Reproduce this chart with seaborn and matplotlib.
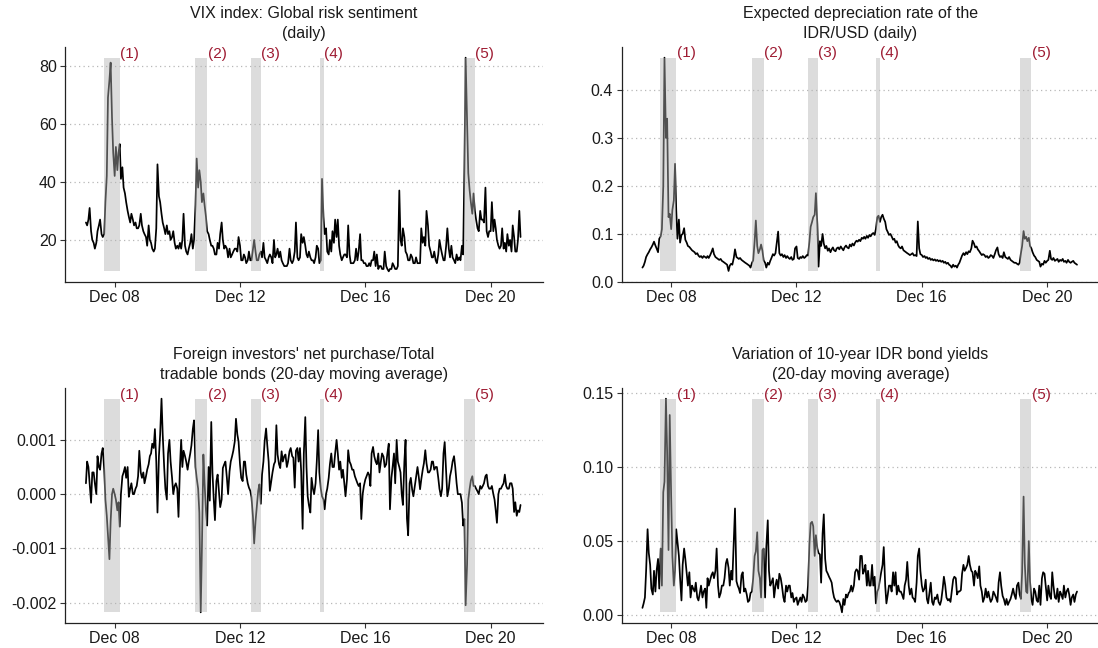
import numpy as np
import pandas as pd
import matplotlib
matplotlib.use("Agg")
import matplotlib.pyplot as plt
import matplotlib.dates as mdates
from matplotlib.ticker import FuncFormatter
import seaborn as sns

# Semi-monthly observations, Feb 2008 - Dec 2021
dates = pd.date_range("2008-02-01", "2021-12-16", freq="SMS")

# VIX index (daily, sampled twice a month)
vix = [
    26, 25, 27, 31, 23, 20, 19, 17, 19, 23, 25, 27, 22, 21, 22, 33, 42, 69, 75, 81, 62, 50,          # 2008
    42, 52, 44, 50, 53, 41, 45, 38, 36, 33, 30, 28, 26, 29, 27, 25, 26, 24, 24, 25, 29, 25, 23, 22,  # 2009
    21, 18, 25, 20, 19, 17, 16, 17, 24, 46, 35, 33, 29, 26, 24, 22, 25, 22, 23, 20, 21, 23, 19, 17,  # 2010
    18, 17, 19, 17, 20, 29, 18, 16, 15, 17, 19, 22, 17, 20, 32, 48, 38, 44, 40, 33, 36, 32, 28, 23,  # 2011
    22, 20, 18, 18, 17, 15, 15, 19, 17, 22, 26, 20, 17, 18, 17, 14, 17, 14, 15, 16, 17, 17, 16, 21,  # 2012
    18, 13, 13, 15, 14, 12, 13, 16, 13, 13, 17, 20, 16, 13, 13, 15, 16, 14, 19, 14, 13, 12, 14, 15,  # 2013
    14, 12, 20, 14, 15, 17, 14, 16, 13, 12, 11, 11, 11, 12, 17, 13, 12, 13, 16, 26, 14, 13, 14, 22,  # 2014
    19, 21, 18, 15, 14, 16, 14, 13, 13, 12, 14, 18, 17, 12, 13, 41, 28, 22, 24, 16, 15, 20, 16, 23,  # 2015
    19, 27, 21, 27, 18, 15, 13, 14, 15, 15, 14, 25, 15, 12, 12, 12, 13, 17, 13, 16, 22, 13, 13, 12,  # 2016
    12, 11, 11, 12, 11, 13, 13, 16, 11, 15, 10, 11, 11, 10, 10, 16, 11, 10, 9.2, 10, 10, 12, 11, 10, # 2017
    10, 11, 37, 20, 18, 24, 21, 16, 15, 13, 13, 15, 14, 12, 12, 14, 12, 12, 12, 24, 19, 21, 18, 30,  # 2018
    25, 18, 16, 14, 14, 16, 13, 12, 15, 20, 17, 15, 13, 13, 18, 24, 17, 14, 18, 14, 13, 12, 15, 13,  # 2019
    14, 13, 18, 15, 45, 82.7, 60, 43, 37, 33, 29, 36, 30, 27, 24, 23, 30, 27, 27, 26, 38, 23, 21, 23,  # 2020
    23, 33, 23, 27, 24, 20, 18, 17, 18, 24, 17, 19, 16, 22, 18, 20, 16, 25, 21, 16, 16, 20, 30, 21,  # 2021
]

# Expected depreciation rate of the IDR/USD
idr_depreciation = [
    0.030, 0.034, 0.042, 0.052, 0.058, 0.062, 0.068, 0.072, 0.078, 0.084, 0.076, 0.070, 0.062, 0.090, 0.095, 0.110, 0.200, 0.467, 0.300, 0.340, 0.135, 0.142,
    0.110, 0.150, 0.170, 0.246, 0.150, 0.090, 0.130, 0.082, 0.098, 0.100, 0.112, 0.088, 0.082, 0.075, 0.073, 0.070, 0.066, 0.064, 0.062, 0.058, 0.060, 0.055, 0.052, 0.054,
    0.050, 0.054, 0.052, 0.050, 0.054, 0.050, 0.056, 0.062, 0.070, 0.058, 0.052, 0.050, 0.048, 0.046, 0.048, 0.044, 0.042, 0.040, 0.038, 0.036, 0.023, 0.034, 0.038, 0.036,
    0.050, 0.068, 0.052, 0.050, 0.048, 0.050, 0.046, 0.044, 0.042, 0.040, 0.038, 0.036, 0.034, 0.030, 0.040, 0.045, 0.085, 0.128, 0.075, 0.060, 0.068, 0.078, 0.065, 0.045,
    0.040, 0.030, 0.040, 0.036, 0.044, 0.050, 0.058, 0.055, 0.060, 0.080, 0.105, 0.060, 0.055, 0.058, 0.052, 0.056, 0.050, 0.054, 0.050, 0.048, 0.052, 0.046, 0.048, 0.070,
    0.074, 0.050, 0.048, 0.052, 0.050, 0.054, 0.050, 0.052, 0.056, 0.055, 0.085, 0.115, 0.125, 0.135, 0.140, 0.185, 0.120, 0.032, 0.085, 0.075, 0.100, 0.080, 0.070, 0.075,
    0.065, 0.070, 0.062, 0.068, 0.072, 0.066, 0.064, 0.070, 0.072, 0.068, 0.074, 0.070, 0.066, 0.072, 0.076, 0.072, 0.070, 0.078, 0.074, 0.080, 0.076, 0.082, 0.086, 0.084,
    0.088, 0.085, 0.092, 0.090, 0.094, 0.090, 0.096, 0.092, 0.098, 0.095, 0.100, 0.102, 0.098, 0.110, 0.135, 0.138, 0.125, 0.135, 0.140, 0.132, 0.125, 0.110, 0.104, 0.098,
    0.100, 0.095, 0.088, 0.090, 0.082, 0.085, 0.076, 0.072, 0.070, 0.074, 0.066, 0.064, 0.062, 0.060, 0.058, 0.056, 0.058, 0.060, 0.055, 0.056, 0.054, 0.126, 0.070, 0.058,
    0.056, 0.052, 0.054, 0.050, 0.052, 0.048, 0.050, 0.046, 0.048, 0.045, 0.047, 0.044, 0.046, 0.043, 0.045, 0.042, 0.044, 0.040, 0.042, 0.038, 0.040, 0.036, 0.034, 0.030,
    0.036, 0.032, 0.034, 0.030, 0.036, 0.040, 0.048, 0.055, 0.060, 0.056, 0.062, 0.058, 0.064, 0.062, 0.070, 0.086, 0.080, 0.072, 0.074, 0.068, 0.064, 0.060, 0.056, 0.058,
    0.056, 0.052, 0.054, 0.050, 0.052, 0.056, 0.054, 0.050, 0.058, 0.066, 0.072, 0.058, 0.052, 0.054, 0.050, 0.062, 0.052, 0.050, 0.048, 0.052, 0.046, 0.044, 0.042, 0.040,
    0.040, 0.038, 0.036, 0.040, 0.060, 0.075, 0.106, 0.090, 0.094, 0.085, 0.092, 0.075, 0.070, 0.062, 0.055, 0.052, 0.046, 0.044, 0.042, 0.032, 0.038, 0.036, 0.044, 0.040,
    0.044, 0.046, 0.065, 0.048, 0.046, 0.050, 0.044, 0.046, 0.048, 0.042, 0.046, 0.044, 0.048, 0.042, 0.044, 0.040, 0.046, 0.042, 0.040, 0.042, 0.044, 0.040, 0.038, 0.036,
]

# Foreign investors' net purchase / total tradable bonds, 20-day MA (units of 1e-3)
net_purchase_e3 = [
    0.2, 0.6, 0.5, 0.2, -0.16, 0.4, 0.4, 0.2, 0.0, 0.7, 0.5, 0.45, 0.75, 0.85, 0.45, -0.1, -0.4, -0.75, -1.2, -0.5, 0.0, 0.1,
    0.0, -0.1, -0.3, -0.15, -0.6, 0.0, 0.33, 0.4, 0.5, 0.3, 0.5, -0.05, 0.1, 0.2, 0.0, 0.0, 0.1, 0.15, 0.33, 0.8, 0.4, 0.3, 0.4, 0.2,
    0.33, 0.45, 0.55, 0.7, 0.75, 0.93, 0.85, 1.2, 0.6, -0.34, 0.7, 1.1, 1.76, 1.1, 0.5, 0.1, -0.1, 0.75, 1.0, 0.6, 0.3, 0.0, 0.15, 0.2,
    0.1, -0.42, 0.5, 1.0, 0.5, 0.8, 0.7, 0.6, 0.45, 0.6, 0.75, 0.9, 1.2, 1.36, 0.5, 0.3, 0.1, -0.34, -2.18, -1.0, 0.73, 0.2, -0.3, -0.58,
    0.5, -0.12, 1.33, 0.4, -0.1, -0.48, 0.24, 0.36, 0.05, -0.24, -0.1, 0.48, 0.55, 0.6, 0.3, 0.0, 0.42, 0.6, 0.7, 0.8, 0.97, 1.39, 1.1, 0.97,
    0.55, 0.3, 0.24, 0.6, 0.6, 0.36, 0.2, 0.12, 0.06, -0.06, -0.42, -0.91, -0.5, -0.24, 0.06, 0.18, -0.18, 0.36, 0.6, 0.97, 1.21, 0.9, 0.6, 0.06,
    0.24, 0.4, 0.55, 0.6, 1.27, 0.73, 0.55, 0.48, 0.79, 0.6, 0.7, 0.73, 0.5, 0.6, 0.79, 0.85, 0.7, 0.67, 0.12, 0.8, 0.85, 0.6, 0.85, 0.42,
    -0.64, 0.75, 1.42, 0.5, -0.04, -0.2, -0.34, 0.3, 0.1, 0.0, 0.2, 0.6, 1.18, 0.4, 0.1, -0.04, -0.1, -0.28, 0.0, 0.1, 0.3, 0.55, 0.75, 0.5,
    0.5, 0.75, 1.0, 0.75, 0.45, 0.6, 0.3, 0.45, 0.2, -0.04, 0.27, 0.81, 0.6, 0.55, 0.45, 0.45, 0.33, 0.27, 0.2, 0.15, 0.2, -0.46, 0.0, 0.15,
    0.27, 0.33, 0.4, 0.35, 0.15, 0.75, 0.87, 0.7, 0.6, 0.55, 0.75, 0.4, 0.6, 0.75, 0.69, 0.5, 0.55, 0.75, 0.93, -0.28, 0.3, 0.5, 0.75, 0.2,
    1.0, 0.6, 0.5, 0.4, 0.0, -0.2, 0.6, 1.0, -0.45, -0.76, 0.2, 0.3, 0.08, -0.04, 0.15, 0.3, 0.5, 0.33, 0.09, 0.27, 0.45, 0.57, 0.81, 0.57,
    0.4, 0.4, 0.45, 0.6, 0.6, 0.45, 0.5, 0.5, 0.3, 0.1, -0.04, 0.1, 0.75, 0.96, 0.4, -0.04, 0.1, 0.33, 0.45, 0.6, 0.7, 0.5, 0.2, 0.0,
    0.0, 0.0, -0.16, -0.58, -0.46, -2.05, -1.3, -0.1, 0.1, 0.25, 0.33, 0.15, 0.15, 0.1, 0.05, 0.0, 0.15, 0.1, 0.15, 0.2, 0.33, 0.36, 0.15, 0.1,
    0.1, 0.15, 0.0, -0.1, -0.3, -0.53, 0.0, 0.1, 0.1, 0.15, 0.2, 0.36, 0.15, 0.1, 0.1, 0.2, 0.2, 0.1, -0.33, -0.15, -0.4, -0.3, -0.33, -0.2,
]

# Variation of 10-year IDR bond yields, 20-day MA
yield_variation = [
    0.005, 0.008, 0.012, 0.030, 0.058, 0.042, 0.034, 0.018, 0.014, 0.030, 0.016, 0.030, 0.038, 0.018, 0.045, 0.020, 0.083, 0.090, 0.146, 0.110, 0.044, 0.135,
    0.080, 0.040, 0.020, 0.030, 0.058, 0.050, 0.040, 0.025, 0.010, 0.034, 0.045, 0.038, 0.028, 0.020, 0.029, 0.012, 0.020, 0.018, 0.016, 0.022, 0.012, 0.010, 0.015, 0.020,
    0.012, 0.016, 0.018, 0.005, 0.025, 0.020, 0.024, 0.027, 0.029, 0.025, 0.030, 0.045, 0.020, 0.012, 0.015, 0.020, 0.020, 0.025, 0.035, 0.038, 0.032, 0.020, 0.030, 0.024,
    0.050, 0.072, 0.023, 0.020, 0.018, 0.015, 0.027, 0.029, 0.016, 0.018, 0.014, 0.009, 0.010, 0.015, 0.016, 0.025, 0.040, 0.043, 0.056, 0.030, 0.025, 0.012, 0.044, 0.045,
    0.012, 0.046, 0.064, 0.030, 0.020, 0.022, 0.025, 0.012, 0.020, 0.024, 0.018, 0.028, 0.025, 0.020, 0.012, 0.009, 0.020, 0.016, 0.020, 0.020, 0.012, 0.015, 0.009, 0.011,
    0.012, 0.007, 0.010, 0.012, 0.009, 0.014, 0.012, 0.009, 0.010, 0.020, 0.048, 0.062, 0.063, 0.060, 0.040, 0.054, 0.045, 0.042, 0.041, 0.022, 0.055, 0.068, 0.038, 0.030,
    0.028, 0.026, 0.024, 0.022, 0.016, 0.012, 0.010, 0.009, 0.010, 0.009, 0.006, 0.002, 0.011, 0.007, 0.014, 0.012, 0.015, 0.016, 0.020, 0.016, 0.020, 0.029, 0.031, 0.030,
    0.024, 0.040, 0.040, 0.028, 0.030, 0.034, 0.020, 0.030, 0.020, 0.020, 0.034, 0.020, 0.026, 0.008, 0.016, 0.018, 0.024, 0.029, 0.034, 0.046, 0.020, 0.008, 0.014, 0.020,
    0.020, 0.016, 0.029, 0.020, 0.029, 0.014, 0.020, 0.016, 0.016, 0.014, 0.011, 0.020, 0.024, 0.036, 0.020, 0.014, 0.018, 0.012, 0.011, 0.009, 0.022, 0.040, 0.045, 0.030,
    0.020, 0.016, 0.018, 0.024, 0.011, 0.008, 0.016, 0.022, 0.009, 0.007, 0.012, 0.011, 0.014, 0.009, 0.007, 0.010, 0.018, 0.026, 0.020, 0.012, 0.010, 0.011, 0.009, 0.016,
    0.024, 0.026, 0.025, 0.014, 0.016, 0.016, 0.017, 0.028, 0.034, 0.030, 0.032, 0.034, 0.040, 0.034, 0.030, 0.029, 0.020, 0.030, 0.028, 0.025, 0.033, 0.020, 0.016, 0.009,
    0.012, 0.018, 0.012, 0.016, 0.012, 0.009, 0.011, 0.016, 0.014, 0.012, 0.009, 0.022, 0.029, 0.020, 0.013, 0.011, 0.007, 0.011, 0.007, 0.009, 0.011, 0.014, 0.018, 0.014,
    0.011, 0.020, 0.022, 0.014, 0.011, 0.029, 0.080, 0.035, 0.016, 0.015, 0.050, 0.023, 0.011, 0.007, 0.018, 0.016, 0.010, 0.009, 0.020, 0.007, 0.025, 0.029, 0.028, 0.020,
    0.010, 0.020, 0.013, 0.011, 0.029, 0.020, 0.012, 0.011, 0.018, 0.009, 0.016, 0.014, 0.011, 0.020, 0.012, 0.016, 0.018, 0.014, 0.007, 0.012, 0.014, 0.009, 0.014, 0.016,
]

# Stress episodes
episode_labels = ["(1)", "(2)", "(3)", "(4)", "(5)"]
episode_start = ["2008-08-24", "2011-08-01", "2013-05-10", "2015-07-17", "2020-02-25"]
episode_end = ["2009-03-04", "2011-12-17", "2013-09-03", "2015-09-02", "2020-07-01"]

tick_dates = ["2008-12-31", "2012-12-31", "2016-12-31", "2020-12-31"]

sns.set_theme(style="ticks")
plt.rcParams["font.family"] = ["Liberation Sans", "DejaVu Sans"]
plt.rcParams["axes.unicode_minus"] = False

INK = "#1A1A1A"
SHADE = "#B3B3B3"
LABEL_RED = "#9E1B32"


def draw_panel(ax, values, title, yticks, fmt):
    values = np.asarray(values, dtype=float)
    frame = pd.DataFrame({"date": dates, "value": values})
    sns.lineplot(data=frame, x="date", y="value", ax=ax, color="black",
                 linewidth=1.25, errorbar=None, zorder=2)

    lo, hi = values.min(), values.max()
    pad = 0.05 * (hi - lo)
    for lab, s, e in zip(episode_labels, episode_start, episode_end):
        s, e = pd.Timestamp(s), pd.Timestamp(e)
        ax.fill_between([s, e], [lo, lo], [hi, hi], color=SHADE, alpha=0.45,
                        linewidth=0, zorder=3)
        ax.annotate(lab, xy=(mdates.date2num(e), hi), xytext=(0.3, 3),
                    textcoords="offset points", ha="left", va="center",
                    fontsize=11, color=LABEL_RED, zorder=4,
                    annotation_clip=False)

    ax.set_xlim(pd.Timestamp("2007-06-02"), pd.Timestamp("2022-09-03"))
    ax.set_ylim(lo - pad, hi + pad)
    ax.set_xticks([pd.Timestamp(d) for d in tick_dates])
    ax.xaxis.set_major_formatter(mdates.DateFormatter("%b %y"))
    ax.set_yticks(yticks)
    ax.yaxis.set_major_formatter(FuncFormatter(lambda v, p: fmt.format(v)))

    ax.set_xlabel("")
    ax.set_ylabel("")
    ax.set_title(title, fontsize=11.5, color=INK, linespacing=1.4, pad=6.8)

    ax.grid(False)
    ax.yaxis.grid(True, linestyle=(0, (1, 2.6)), color="#B8B8B8", linewidth=0.9)
    ax.set_axisbelow(True)
    for side in ("top", "right"):
        ax.spines[side].set_visible(False)
    for side in ("left", "bottom"):
        ax.spines[side].set_color("#222222")
        ax.spines[side].set_linewidth(0.9)
    ax.tick_params(axis="both", length=3.5, width=0.8, color="#333333",
                   labelsize=11.5, labelcolor=INK, pad=2.5)


fig = plt.figure(figsize=(10.98, 6.48), dpi=100)
W, H = 1098.0, 648.0
panel_w, panel_h = 478 / W, 235 / H
ax_tl = fig.add_axes([65 / W, 1 - 282 / H, panel_w, panel_h])
ax_tr = fig.add_axes([621.5 / W, 1 - 282 / H, panel_w, panel_h])
ax_bl = fig.add_axes([65 / W, 1 - 623 / H, panel_w, panel_h])
ax_br = fig.add_axes([621.5 / W, 1 - 623 / H, panel_w, panel_h])

draw_panel(ax_tl, vix, "VIX index: Global risk sentiment\n(daily)",
           [20, 40, 60, 80], "{:.0f}")
draw_panel(ax_tr, idr_depreciation, "Expected depreciation rate of the\nIDR/USD (daily)",
           [0.0, 0.1, 0.2, 0.3, 0.4], "{:.1f}")
draw_panel(ax_bl, np.asarray(net_purchase_e3) * 1e-3,
           "Foreign investors' net purchase/Total\ntradable bonds (20-day moving average)",
           [-0.002, -0.001, 0.0, 0.001], "{:.3f}")
draw_panel(ax_br, yield_variation,
           "Variation of 10-year IDR bond yields\n(20-day moving average)",
           [0.0, 0.05, 0.10, 0.15], "{:.2f}")

fig.savefig("out.png", dpi=100)
